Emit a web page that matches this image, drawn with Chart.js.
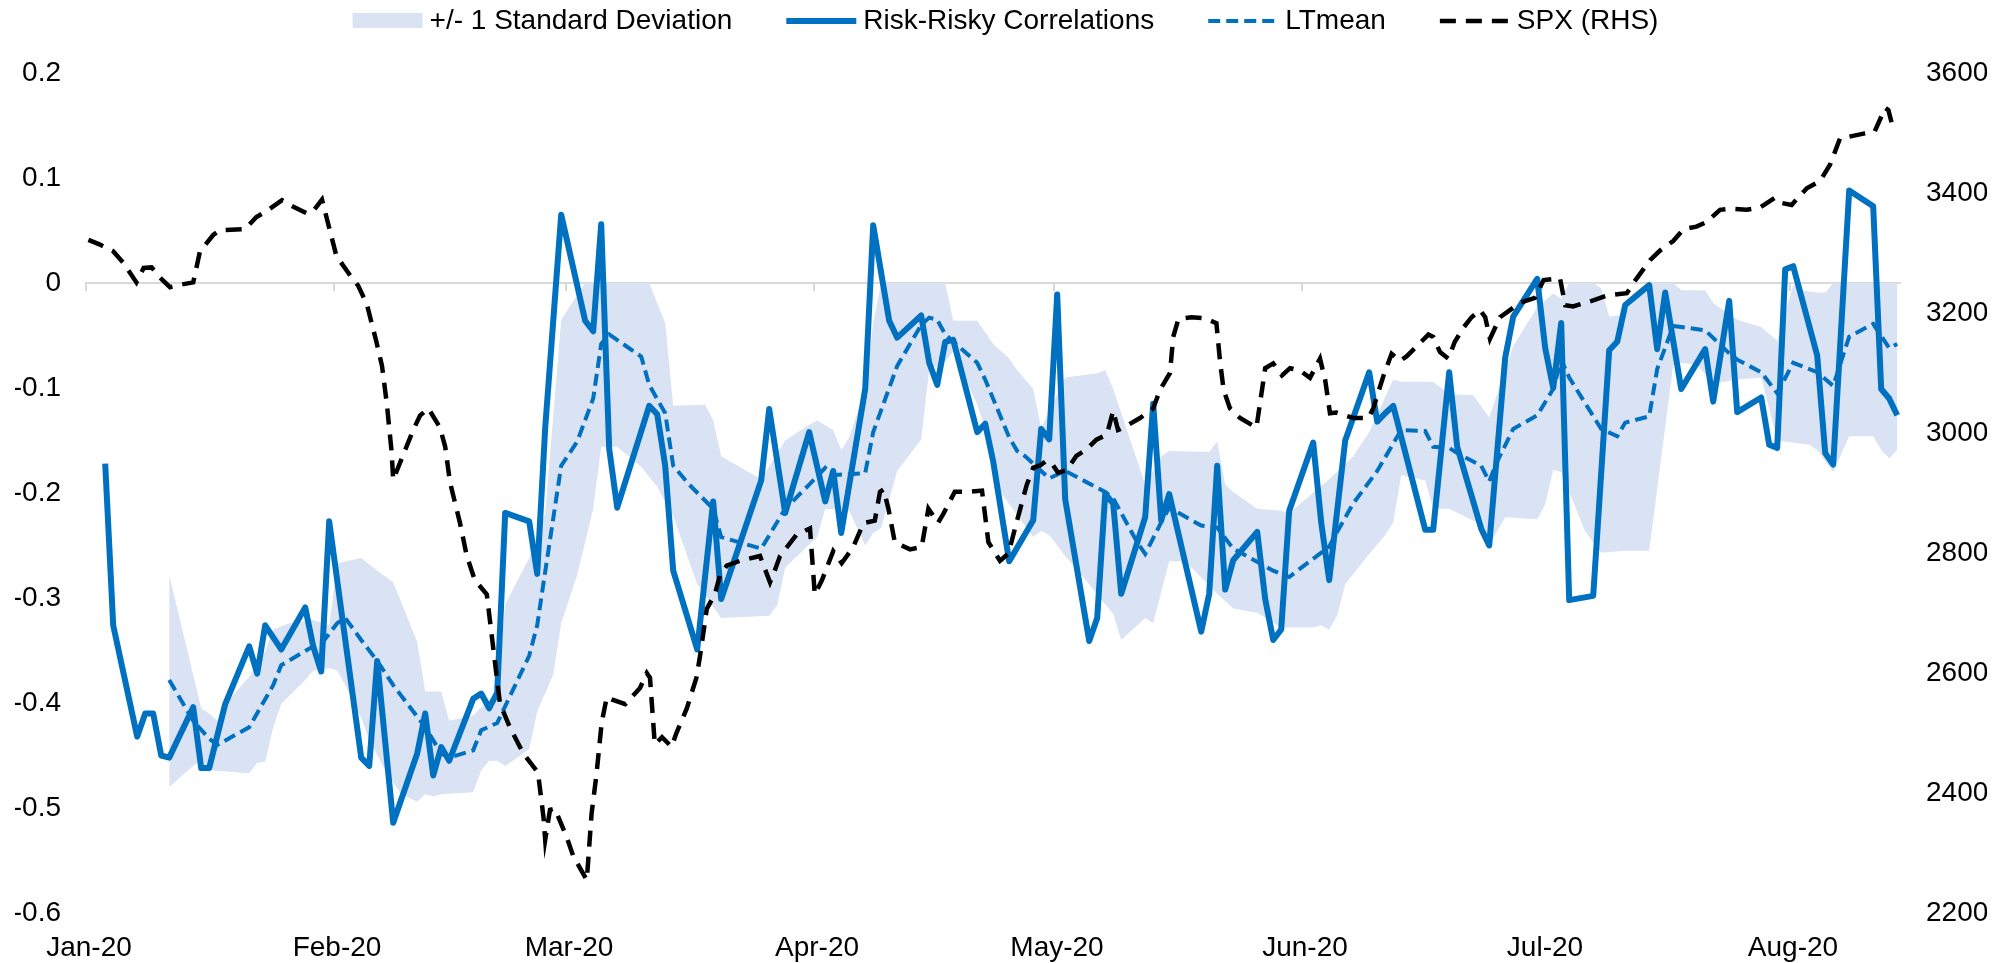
<!DOCTYPE html>
<html>
<head>
<meta charset="utf-8">
<script src="https://cdn.jsdelivr.net/npm/chart.js@4.4.1/dist/chart.umd.min.js"></script>
<style>
    html, body { margin: 0; padding: 0; background: #ffffff; }
</style>
</head>
<body>
<canvas id="grafico" width="2011" height="963"></canvas>
<script>
// x axis: days since 1 Jan 2020
var monthStart = [0, 31, 60, 91, 121, 152, 182, 213];
var monthLabel = ['Jan-20', 'Feb-20', 'Mar-20', 'Apr-20', 'May-20', 'Jun-20', 'Jul-20', 'Aug-20'];
// the dates sit a bit right of the month tick, like on the Excel date axis
var tickShift = 1.4;
var lastDay = 225.35;

// Risk-Risky Correlations
var corrDay = [1, 2, 5, 6, 7, 8, 9, 12, 13, 14, 16, 19, 20, 21, 23, 26, 27, 28, 29,
    33, 34, 35, 37, 40, 41, 42, 43, 44, 47, 48, 49, 50, 51, 54, 55, 56, 58,
    61, 62, 63, 64, 65, 69, 70, 71, 72, 75, 77, 78, 83, 84, 86, 89,
    91, 92, 93, 96, 97, 99, 100, 103, 104, 105, 106, 107, 110, 111, 112, 114, 117, 118, 119, 120,
    121, 124, 125, 126, 127, 128, 131, 132, 133, 134, 138, 139, 140, 141, 142, 145, 146, 147, 148, 149,
    152, 153, 154, 156, 159, 160, 161, 162, 166, 167, 169, 170, 173, 174, 176, 177, 180, 181,
    182, 183, 184, 187, 189, 190, 191, 194, 195, 196, 198, 201, 202, 204, 205, 208, 209, 210, 211, 212,
    215, 216, 217, 219, 222, 223, 224, 225];
var corrVal = [-0.172, -0.326, -0.432, -0.410, -0.410, -0.450, -0.452, -0.404, -0.462, -0.462, -0.401, -0.346, -0.372, -0.326, -0.349, -0.309, -0.346, -0.370, -0.227,
    -0.452, -0.460, -0.360, -0.514, -0.448, -0.410, -0.469, -0.442, -0.455, -0.396, -0.391, -0.405, -0.390, -0.219, -0.227, -0.277, -0.138, 0.065,
    -0.036, -0.046, 0.056, -0.158, -0.214, -0.117, -0.125, -0.174, -0.274, -0.349, -0.208, -0.301, -0.188, -0.120, -0.219, -0.142,
    -0.208, -0.179, -0.238, -0.101, 0.055, -0.036, -0.052, -0.031, -0.076, -0.097, -0.056, -0.054, -0.142, -0.134, -0.170, -0.265, -0.226, -0.139, -0.149, -0.011,
    -0.206, -0.341, -0.319, -0.201, -0.210, -0.296, -0.223, -0.115, -0.226, -0.201, -0.332, -0.296, -0.174, -0.292, -0.264, -0.237, -0.301, -0.340, -0.330, -0.217,
    -0.152, -0.228, -0.283, -0.150, -0.085, -0.132, -0.124, -0.117, -0.235, -0.235, -0.085, -0.156, -0.234, -0.250, -0.071, -0.032, 0.004, -0.062,
    -0.100, -0.038, -0.302, -0.298, -0.064, -0.056, -0.021, -0.002, -0.063, -0.009, -0.101, -0.063, -0.113, -0.017, -0.123, -0.109, -0.154, -0.157, 0.013, 0.016,
    -0.069, -0.162, -0.173, 0.088, 0.073, -0.101, -0.110, -0.126];

// LTmean
var meanDay = [9, 12, 14, 15, 19, 22, 23, 27, 28, 30, 31, 33, 35, 37, 41, 43, 44, 47, 48, 50,
    54, 55, 56, 58, 60, 62, 63, 64, 68, 69, 71, 72, 74, 77, 78, 83, 86, 89, 91, 92,
    96, 97, 100, 103, 104, 105, 106, 110, 111, 114, 115, 116, 118, 119, 121, 126, 127, 130, 131, 133,
    134, 138, 140, 142, 147, 149, 154, 155, 157, 160, 163, 166, 167, 169, 170, 173, 174, 175, 177, 180,
    182, 183, 184, 188, 190, 191, 194, 195, 197, 198, 201, 204, 205, 208, 210, 212, 215, 217, 219, 222,
    224, 225];
var meanVal = [-0.378, -0.417, -0.434, -0.440, -0.423, -0.383, -0.364, -0.346, -0.344, -0.324, -0.319, -0.340, -0.360, -0.383, -0.423, -0.448, -0.452, -0.445, -0.426, -0.419,
    -0.355, -0.326, -0.275, -0.174, -0.151, -0.110, -0.058, -0.049, -0.070, -0.097, -0.124, -0.174, -0.192, -0.215, -0.242, -0.253, -0.215, -0.192, -0.176, -0.183,
    -0.181, -0.142, -0.079, -0.040, -0.033, -0.035, -0.049, -0.076, -0.092, -0.147, -0.160, -0.165, -0.179, -0.186, -0.179, -0.199, -0.205, -0.247, -0.258, -0.228,
    -0.214, -0.231, -0.233, -0.253, -0.274, -0.280, -0.251, -0.237, -0.210, -0.179, -0.140, -0.141, -0.156, -0.157, -0.162, -0.174, -0.189, -0.170, -0.139, -0.126,
    -0.101, -0.073, -0.090, -0.139, -0.146, -0.133, -0.127, -0.082, -0.041, -0.042, -0.045, -0.067, -0.073, -0.085, -0.105, -0.076, -0.085, -0.098, -0.051, -0.039,
    -0.062, -0.058];

// +/- 1 standard deviation band (top edge stops at the zero line, as in the source)
var upperDay = [9, 13, 14, 15, 16, 19, 21, 22, 24, 27, 29, 30, 33, 35, 37, 40, 41, 43, 44, 47,
    50, 51, 54, 56, 58, 61, 69, 71, 72, 76, 77, 78, 83, 86, 89, 90, 92, 93, 94, 96,
    97, 98, 106, 107, 110, 112, 114, 115, 117, 118, 121, 125, 126, 127, 131, 133, 134, 139, 140, 141,
    142, 145, 148, 149, 154, 157, 159, 162, 163, 167, 169, 172, 174, 177, 180, 182, 183, 184, 187, 188,
    189, 191, 192, 194, 197, 198, 201, 202, 205, 208, 210, 212, 213, 215, 216, 217, 225];
var upperVal = [-0.278, -0.405, -0.410, -0.417, -0.401, -0.375, -0.351, -0.330, -0.324, -0.321, -0.326, -0.267, -0.262, -0.274, -0.285, -0.342, -0.389, -0.389, -0.417, -0.412,
    -0.389, -0.306, -0.262, -0.219, -0.035, 0, 0, -0.038, -0.117, -0.116, -0.131, -0.165, -0.187, -0.150, -0.135, -0.131, -0.140, -0.159, -0.147, -0.101,
    -0.038, 0, 0, -0.036, -0.036, -0.058, -0.072, -0.083, -0.101, -0.138, -0.090, -0.086, -0.083, -0.101, -0.192, -0.165, -0.160, -0.161, -0.151, -0.192,
    -0.199, -0.215, -0.217, -0.219, -0.187, -0.165, -0.142, -0.092, -0.094, -0.094, -0.106, -0.107, -0.128, -0.060, -0.023, -0.010, -0.015, 0, 0, -0.005,
    -0.032, -0.030, -0.010, 0, 0, -0.007, -0.007, -0.019, -0.035, -0.042, -0.055, -0.002, -0.007, -0.009, -0.009, 0, 0];
var lowerDay = [9, 12, 13, 14, 19, 20, 21, 22, 23, 26, 27, 29, 30, 31, 33, 34, 36, 38, 40, 41,
    42, 43, 47, 48, 49, 50, 51, 54, 55, 57, 58, 60, 62, 63, 65, 68, 70, 72, 75, 78,
    84, 85, 86, 90, 91, 94, 96, 97, 98, 100, 103, 104, 106, 107, 110, 112, 113, 117, 118, 119,
    121, 124, 126, 127, 128, 131, 132, 134, 136, 140, 142, 145, 148, 152, 153, 154, 155, 156, 159, 161,
    162, 163, 166, 167, 169, 173, 174, 176, 180, 181, 182, 183, 186, 188, 191, 194, 195, 197, 198, 200,
    202, 205, 208, 210, 214, 215, 217, 219, 222, 223, 224, 225];
var lowerVal = [-0.480, -0.460, -0.454, -0.464, -0.467, -0.457, -0.456, -0.423, -0.401, -0.378, -0.369, -0.367, -0.369, -0.383, -0.414, -0.435, -0.464, -0.487, -0.494, -0.487,
    -0.489, -0.487, -0.485, -0.464, -0.455, -0.455, -0.460, -0.444, -0.408, -0.373, -0.324, -0.278, -0.215, -0.156, -0.156, -0.175, -0.194, -0.222, -0.287, -0.319,
    -0.317, -0.307, -0.271, -0.242, -0.215, -0.217, -0.250, -0.238, -0.233, -0.179, -0.149, -0.083, -0.075, -0.065, -0.116, -0.162, -0.200, -0.242, -0.236, -0.240,
    -0.260, -0.287, -0.306, -0.315, -0.340, -0.319, -0.324, -0.265, -0.265, -0.296, -0.310, -0.314, -0.328, -0.328, -0.326, -0.330, -0.317, -0.287, -0.258, -0.240,
    -0.228, -0.183, -0.188, -0.215, -0.215, -0.230, -0.250, -0.223, -0.225, -0.211, -0.178, -0.180, -0.237, -0.257, -0.255, -0.255, -0.196, -0.078, -0.076, -0.078,
    -0.096, -0.092, -0.090, -0.150, -0.154, -0.159, -0.180, -0.146, -0.146, -0.159, -0.167, -0.159];

// SPX (RHS)
var spxDay = [-1.1, 0.35, 2.0, 3.3, 4.9, 5.8, 6.8, 7.85, 9.1, 10.35, 12.0, 12.85, 14.5, 15.35, 18.5, 19.9, 21.2, 23.1, 24.1, 26.2,
    27.0, 28.1, 29.9, 31.6, 32.6, 33.7, 34.9, 35.6, 36.2, 36.8, 37.0, 39.5, 40.35, 41.4, 42.85, 43.5, 44.1, 45.35, 46.2, 47.2,
    48.7, 49.7, 50.35, 51.6, 53.3, 55.1, 55.8, 56.0, 56.6, 57.2, 58.7, 59.5, 61.2, 61.8, 62.4, 63.06, 63.7, 64.3, 66.0, 67.85,
    68.7, 69.1, 69.7, 70.6, 71.8, 72.4, 73.7, 74.9, 75.35, 76.2, 77.2, 77.85, 78.7, 80.35, 82.85, 84.1, 84.7, 85.35, 87.4, 89.1,
    89.7, 90.6, 92.0, 93.06, 94.5, 95.8, 97.2, 97.85, 98.3, 98.9, 99.7, 101.6, 103.06, 103.9, 105.1, 105.8, 107.2, 108.9, 110.6, 111.4,
    112.85, 113.9, 114.9, 116.2, 117.0, 117.85, 118.7, 119.5, 120.1, 121.2, 122.4, 123.7, 124.9, 126.2, 127.0, 127.6, 128.3, 130.35, 132.0, 132.85,
    134.1, 134.5, 135.15, 136.8, 138.5, 139.9, 140.35, 140.8, 141.6, 142.85, 144.9, 145.6, 146.0, 147.0, 148.1, 149.1, 150.35, 151.6, 152.85, 153.5,
    154.1, 154.9, 157.0, 158.9, 159.5, 160.8, 161.8, 162.85, 163.7, 164.9, 166.4, 167.0, 167.85, 168.9, 169.7, 170.8, 171.8, 172.85, 173.5, 174.1,
    175.35, 176.2, 177.85, 179.7, 180.8, 182.85, 183.5, 184.5, 187.0, 188.7, 191.2, 192.4, 194.1, 195.35, 197.0, 198.3, 199.9, 201.2, 202.85, 204.1,
    206.2, 207.85, 209.7, 210.35, 211.8, 213.7, 215.35, 216.6, 217.85, 218.7, 220.8, 222.2, 223.5, 223.9, 224.5];
var spxVal = [3322, 3314, 3303, 3283, 3251, 3275, 3276, 3259, 3243, 3247, 3251, 3303, 3330, 3338, 3340, 3360, 3370, 3388, 3380, 3366,
    3370, 3389, 3295, 3263, 3246, 3215, 3152, 3112, 3049, 2969, 2922, 3005, 3029, 3041, 3009, 2977, 2918, 2850, 2795, 2755,
    2731, 2620, 2549, 2509, 2465, 2434, 2358, 2322, 2372, 2374, 2326, 2295, 2255, 2366, 2430, 2517, 2560, 2556, 2548, 2575,
    2600, 2592, 2481, 2493, 2477, 2500, 2541, 2592, 2628, 2707, 2731, 2763, 2779, 2787, 2795, 2751, 2771, 2795, 2830, 2841,
    2731, 2755, 2803, 2783, 2810, 2850, 2854, 2902, 2906, 2874, 2818, 2806, 2810, 2874, 2850, 2866, 2902, 2902, 2904, 2818,
    2787, 2799, 2850, 2914, 2942, 2946, 2954, 2946, 2934, 2938, 2962, 2973, 2989, 2997, 3037, 3005, 3009, 3025, 3041, 3072,
    3100, 3160, 3190, 3193, 3191, 3183, 3120, 3072, 3041, 3025, 3009, 3072, 3108, 3116, 3096, 3108, 3104, 3092, 3124, 3088,
    3033, 3034, 3025, 3025, 3041, 3096, 3132, 3120, 3128, 3144, 3164, 3160, 3135, 3124, 3152, 3176, 3193, 3205, 3193, 3157,
    3193, 3201, 3217, 3225, 3255, 3258, 3213, 3211, 3221, 3229, 3233, 3257, 3288, 3304, 3320, 3340, 3344, 3352, 3372, 3374,
    3372, 3376, 3392, 3384, 3380, 3408, 3420, 3447, 3491, 3493, 3499, 3503, 3542, 3538, 3507];

var azul = '#0070C0';
var faixa = '#DAE3F3';
var cinza = '#D9D9D9';

function pontos(dias, valores) {
    return dias.map(function (d, i) { return {x: d, y: valores[i]}; });
}

function ticksDoMes(scale) {
    scale.ticks = monthStart.map(function (d) { return {value: d - tickShift}; });
}

// legend on top, drawn by hand so spacing matches the original
var legendaTopo = {
    id: 'legendaTopo',
    afterDraw: function (chart) {
        var ctx = chart.ctx;
        var itens = chart.data.datasets.filter(function (ds) { return ds.legendKind; });
        var sw = 70, gapText = 7, gapItem = 54, y = 21;
        ctx.save();
        ctx.font = '28px "Liberation Sans", Arial, sans-serif';
        ctx.textBaseline = 'middle';
        var larguras = itens.map(function (ds) { return sw + gapText + ctx.measureText(ds.label).width; });
        var total = larguras.reduce(function (a, b) { return a + b; }, 0) + gapItem * (itens.length - 1);
        var x = (chart.width - total) / 2;
        itens.forEach(function (ds, i) {
            if (ds.legendKind === 'box') {
                ctx.fillStyle = ds.backgroundColor;
                ctx.fillRect(x, y - 8, sw, 15);
            } else {
                ctx.beginPath();
                ctx.strokeStyle = ds.borderColor;
                ctx.lineWidth = ds.borderWidth;
                ctx.setLineDash(ds.borderDash || []);
                ctx.moveTo(x, y);
                ctx.lineTo(x + sw, y);
                ctx.stroke();
                ctx.setLineDash([]);
            }
            ctx.fillStyle = '#000000';
            ctx.fillText(ds.label, x + sw + gapText, y);
            x += larguras[i] + gapItem;
        });
        ctx.restore();
    }
};

Chart.defaults.font.family = '"Liberation Sans", Arial, sans-serif';
Chart.defaults.font.size = 28;
Chart.defaults.color = '#000000';

var config = {
    type: 'line',
    data: {
        datasets: [{
            // top edge of the band
            label: 'band top',
            data: pontos(upperDay, upperVal),
            yAxisID: 'y',
            borderWidth: 0,
            pointRadius: 0,
            fill: false,
            order: 4
        }, {
            label: '+/- 1 Standard Deviation',
            legendKind: 'box',
            data: pontos(lowerDay, lowerVal),
            yAxisID: 'y',
            borderWidth: 0,
            pointRadius: 0,
            backgroundColor: faixa,
            fill: '-1',
            order: 3
        }, {
            label: 'Risk-Risky Correlations',
            legendKind: 'line',
            data: pontos(corrDay, corrVal),
            yAxisID: 'y',
            borderColor: azul,
            borderWidth: 6,
            borderJoinStyle: 'round',
            pointRadius: 0,
            order: 2
        }, {
            label: 'LTmean',
            legendKind: 'line',
            data: pontos(meanDay, meanVal),
            yAxisID: 'y',
            borderColor: azul,
            borderWidth: 4,
            borderDash: [12, 6],
            pointRadius: 0,
            order: 1
        }, {
            label: 'SPX (RHS)',
            legendKind: 'line',
            data: pontos(spxDay, spxVal),
            yAxisID: 'y1',
            borderColor: '#000000',
            borderWidth: 4.5,
            borderDash: [16, 10],
            pointRadius: 0,
            order: 0
        }]
    },
    options: {
        responsive: false,
        animation: false,
        devicePixelRatio: 1,
        elements: { line: { tension: 0 } },
        layout: { padding: { left: 15, right: 24, top: 73, bottom: 0 } },
        plugins: {
            legend: { display: false },
            tooltip: { enabled: false }
        },
        scales: {
            x: {
                type: 'linear',
                min: -tickShift,
                max: lastDay,
                afterBuildTicks: ticksDoMes,
                // fixed size so the plot area lines up with the original
                afterFit: function (scale) { scale.height = 50; },
                ticks: {
                    autoSkip: false,
                    maxRotation: 0,
                    padding: 18,
                    labelOffset: 3,
                    callback: function (v, i) { return monthLabel[i]; }
                },
                grid: { display: false, drawTicks: false },
                border: { display: false }
            },
            // axis line at zero with the month tick marks
            x0: {
                type: 'linear',
                position: { y: 0 },
                min: -tickShift,
                max: lastDay,
                afterBuildTicks: ticksDoMes,
                ticks: { display: false },
                grid: { drawOnChartArea: false, drawTicks: true, tickLength: 7, color: cinza, lineWidth: 2 },
                border: { display: true, color: cinza, width: 2 }
            },
            y: {
                position: 'left',
                min: -0.6,
                max: 0.2,
                afterFit: function (scale) { scale.width = 71; },
                ticks: {
                    stepSize: 0.1,
                    padding: 25,
                    callback: function (v) { return String(Math.round(v * 10) / 10); }
                },
                grid: { display: false, drawTicks: false },
                border: { display: false }
            },
            y1: {
                position: 'right',
                min: 2200,
                max: 3600,
                afterFit: function (scale) { scale.width = 87; },
                ticks: {
                    stepSize: 200,
                    padding: 26,
                    callback: function (v) { return String(v); }
                },
                grid: { display: false, drawTicks: false },
                border: { display: false }
            }
        }
    },
    plugins: [legendaTopo]
};

var grafico = new Chart(document.getElementById('grafico'), config);
</script>
</body>
</html>
